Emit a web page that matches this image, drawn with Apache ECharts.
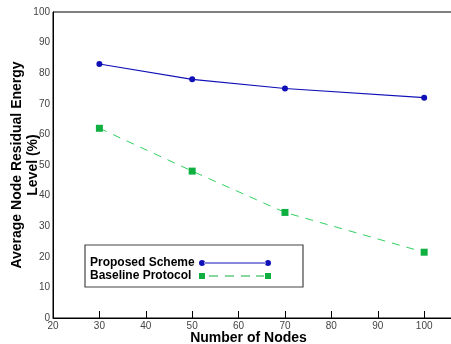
<!DOCTYPE html>
<html>
<head>
<meta charset="utf-8">
<script src="https://cdn.jsdelivr.net/npm/echarts@6/dist/echarts.min.js"></script>
<style>
  html, body { margin: 0; padding: 0; background: #fff; }
  #main { width: 451px; height: 344px; }
</style>
</head>
<body>
<div id="main"></div>
<script>
var nodes = [30, 50, 70, 100];
var proposed = [83, 78, 75, 72];
var baseline = [62, 48, 34.5, 21.5];
var xTicks = [20, 30, 40, 50, 60, 70, 80, 90, 100];
var seriesNames = ['Proposed Scheme', 'Baseline Protocol'];

function pairs(xs, ys) {
    var out = [];
    for (var i = 0; i < xs.length; i++) out.push([xs[i], ys[i]]);
    return out;
}

// legend icons: marker - line - marker, like the original key
var iconProposed = 'path://M0,3a3,3 0 1,0 6,0a3,3 0 1,0 -6,0z M5,2.5h62v1h-62z M66,3a3,3 0 1,0 6,0a3,3 0 1,0 -6,0z';
var iconBaseline = 'path://M0,0h6v6h-6z M10,2.4h9v1.2h-9z M26,2.4h9v1.2h-9z M42,2.4h9v1.2h-9z M57,2.4h8v1.2h-8z M66,0h6v6h-6z';

var myChart = echarts.init(document.getElementById('main'));
var option = {
    animation: false,
    textStyle: { fontFamily: 'Liberation Sans, Arial, sans-serif' },
    grid: {
        left: 53, top: 12, width: 399, height: 306,
        outerBoundsMode: 'none',
        containLabel: false,
        show: true, borderColor: '#000', borderWidth: 1
    },
    legend: {
        orient: 'vertical',
        left: 85, top: 245,
        align: 'right',
        itemWidth: 72, itemHeight: 6, itemGap: 1,
        padding: [12, 32, 5, 5],
        backgroundColor: '#fff',
        borderColor: '#444', borderWidth: 1.2,
        formatter: function (name) { return '{t|' + name + '}'; },
        textStyle: {
            fontSize: 12, fontWeight: 'bold', color: '#000',
            rich: { t: { width: 104, align: 'left', fontSize: 12, fontWeight: 'bold', color: '#000' } }
        },
        data: [
            { name: seriesNames[0], icon: iconProposed },
            { name: seriesNames[1], icon: iconBaseline }
        ]
    },
    xAxis: {
        type: 'value',
        min: 20, max: 106, interval: 10,
        name: 'Number of Nodes',
        nameLocation: 'middle',
        nameGap: 13,
        nameMoveOverlap: false,
        nameTextStyle: { fontSize: 14, fontWeight: 'bold', color: '#000', padding: [0, 8, 0, 0] },
        axisLine: { lineStyle: { color: '#000', width: 1 } },
        axisTick: { inside: true, length: 7, lineStyle: { color: '#000' }, customValues: xTicks },
        axisLabel: { fontSize: 10, color: '#444', margin: 3, customValues: xTicks },
        splitLine: { show: false }
    },
    yAxis: {
        type: 'value',
        min: 0, max: 100, interval: 10,
        name: 'Average Node Residual Energy\nLevel (%)',
        nameLocation: 'middle',
        nameGap: 12,
        nameMoveOverlap: false,
        nameTextStyle: { fontSize: 14, fontWeight: 'bold', color: '#000', lineHeight: 16 },
        axisLine: { lineStyle: { color: '#000', width: 1 } },
        axisTick: { show: false },
        axisLabel: { fontSize: 10, color: '#444', margin: 3 },
        splitLine: { show: false }
    },
    series: [
        {
            name: seriesNames[0],
            type: 'line',
            data: pairs(nodes, proposed),
            symbol: 'circle',
            symbolSize: 6,
            color: '#1010b8',
            lineStyle: { width: 1.2, color: '#1010b8' },
            itemStyle: { color: '#1010b8' }
        },
        {
            name: seriesNames[1],
            type: 'line',
            data: pairs(nodes, baseline),
            symbol: 'rect',
            symbolSize: 7,
            color: '#10b040',
            lineStyle: { width: 1, color: '#30d060', type: [8, 7] },
            itemStyle: { color: '#10b040' }
        }
    ]
};
myChart.setOption(option);
</script>
</body>
</html>
